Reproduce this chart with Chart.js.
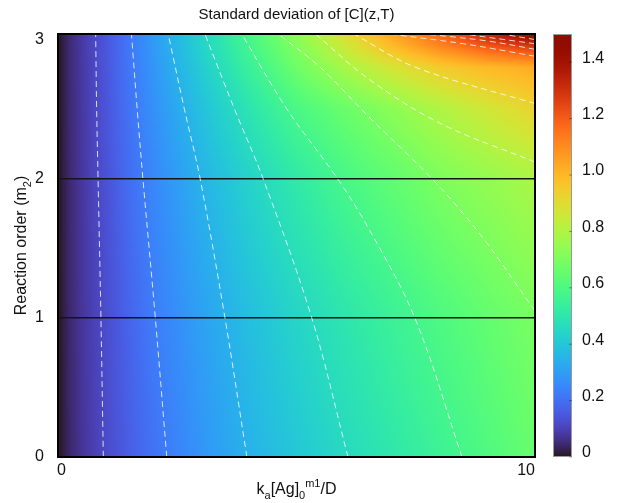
<!DOCTYPE html>
<html>
<head>
<meta charset="utf-8">
<script src="https://cdn.jsdelivr.net/npm/chart.js@4.4.0/dist/chart.umd.min.js"></script>
<style>
  html, body { margin: 0; padding: 0; background: #fff; }
  #wrap { width: 618px; height: 503px; }
</style>
</head>
<body>
<div id="wrap"><canvas id="myChart" width="618" height="503"></canvas></div>
<script>
// where the colour of the map was read (x = k_a[Ag]_0^m1/D, y = m2)
const gridX = [0, 0.25, 0.5, 1, 1.5, 2, 3, 4, 5, 6, 7, 8, 9, 10];
const gridY = [0, 1, 2, 2.5, 2.8, 2.95, 3.04];

// standard deviation, one array per row of gridY
const sdRow0   = [0.00, 0.042, 0.072, 0.120, 0.163, 0.206, 0.279, 0.348, 0.402, 0.456, 0.504, 0.554, 0.605, 0.660];
const sdRow1   = [0.00, 0.044, 0.075, 0.125, 0.176, 0.226, 0.306, 0.378, 0.441, 0.496, 0.549, 0.601, 0.648, 0.693];
const sdRow2   = [0.00, 0.046, 0.078, 0.135, 0.196, 0.251, 0.348, 0.435, 0.512, 0.585, 0.643, 0.700, 0.745, 0.790];
const sdRow25  = [0.00, 0.047, 0.080, 0.141, 0.208, 0.270, 0.384, 0.491, 0.591, 0.660, 0.728, 0.796, 0.862, 0.925];
const sdRow28  = [0.00, 0.048, 0.081, 0.144, 0.214, 0.282, 0.415, 0.545, 0.670, 0.780, 0.870, 0.950, 1.000, 1.030];
const sdRow295 = [0.00, 0.048, 0.082, 0.146, 0.218, 0.290, 0.432, 0.572, 0.710, 0.850, 0.990, 1.110, 1.210, 1.280];
const sdRow304 = [0.00, 0.048, 0.082, 0.146, 0.219, 0.292, 0.438, 0.584, 0.730, 0.890, 1.040, 1.180, 1.330, 1.470];
const sdRows = [sdRow0, sdRow1, sdRow2, sdRow25, sdRow28, sdRow295, sdRow304];

// dashed contour lines, [x, y] points
const contourA = [[0.95, 0], [0.90, 1], [0.84, 2], [0.81, 2.5], [0.79, 3.04]];
const contourB = [[2.28, 0], [2.04, 1], [1.78, 2], [1.66, 2.5], [1.54, 3.04]];
const contourC = [[3.96, 0], [3.50, 1], [2.98, 2], [2.65, 2.5], [2.31, 3.04]];
const contourD = [[6.08, 0], [5.32, 1], [4.30, 2], [3.70, 2.5], [3.08, 3.04]];
const contourE = [[8.47, 0], [7.48, 1], [6.50, 1.65], [5.86, 2], [4.80, 2.5], [3.85, 3.04]];
const contourF = [[10, 1.05], [8.85, 1.6], [7.84, 2], [6.50, 2.45], [5.50, 2.8], [4.62, 3.04]];
const contourG = [[10, 2.12], [8.0, 2.4], [6.5, 2.72], [5.4, 3.04]];
const contourH = [[10, 2.54], [7.5, 2.8], [6.2, 3.04]];
const contourI = [[10, 2.88], [8.5, 2.97], [6.95, 3.04]];
const contourJ = [[10, 2.93], [9.0, 2.99], [7.7, 3.04]];
const contourK = [[10, 2.97], [8.5, 3.04]];
const contourL = [[10, 3.0], [9.3, 3.04]];
const contours = [contourA, contourB, contourC, contourD, contourE, contourF,
                  contourG, contourH, contourI, contourJ, contourK, contourL];

// solid black lines at these reaction orders
const orderLines = [1, 2];

const xTicks = [0, 10];
const yTicks = [0, 1, 2, 3];
const cbTicks = [0, 0.2, 0.4, 0.6, 0.8, 1.0, 1.2, 1.4];
const cbLabels = ["0", "0.2", "0.4", "0.6", "0.8", "1.0", "1.2", "1.4"];
const cbMax = 1.5;

const FONT = "'Liberation Sans', Arial, sans-serif";

function turbo(t) {
  t = Math.min(1, Math.max(0, t));
  const r = 0.13572138 + t*(4.61539260 + t*(-42.66032258 + t*(132.13108234 + t*(-152.94239396 + t*59.28637943))));
  const g = 0.09140261 + t*(2.19418839 + t*(4.84296658 + t*(-14.18503333 + t*(4.27729857 + t*2.82956604))));
  const b = 0.10667330 + t*(12.64194608 + t*(-60.58204836 + t*(110.36276771 + t*(-89.90310912 + t*27.34824973))));
  return [r, g, b].map(c => Math.round(255 * Math.min(1, Math.max(0, c))));
}

function findCell(arr, v) {
  if (v <= arr[0]) return [0, 0];
  const n = arr.length - 1;
  if (v >= arr[n]) return [n - 1, 1];
  for (let i = 0; i < n; i++) {
    if (v <= arr[i + 1]) return [i, (v - arr[i]) / (arr[i + 1] - arr[i])];
  }
  return [n - 1, 1];
}

// shading between the read grid points, like "shading interp"
function sample(xv, yv) {
  const [i, fx] = findCell(gridX, xv);
  const [j, fy] = findCell(gridY, yv);
  const a = sdRows[j][i], b = sdRows[j][i + 1];
  const c = sdRows[j + 1][i], d = sdRows[j + 1][i + 1];
  return (a * (1 - fx) + b * fx) * (1 - fy) + (c * (1 - fx) + d * fx) * fy;
}

const heatmap = {
  id: "heatmap",
  beforeDatasetsDraw(chart) {
    const { ctx, chartArea: area, scales: { x, y } } = chart;
    const w = Math.round(area.right - area.left);
    const h = Math.round(area.bottom - area.top);
    const off = document.createElement("canvas");
    off.width = w; off.height = h;
    const octx = off.getContext("2d");
    const img = octx.createImageData(w, h);
    for (let j = 0; j < h; j++) {
      const yv = y.getValueForPixel(area.top + j + 0.5);
      for (let i = 0; i < w; i++) {
        const xv = x.getValueForPixel(area.left + i + 0.5);
        const col = turbo(sample(xv, yv) / cbMax);
        const k = (j * w + i) * 4;
        img.data[k] = col[0]; img.data[k + 1] = col[1]; img.data[k + 2] = col[2]; img.data[k + 3] = 255;
      }
    }
    octx.putImageData(img, 0, 0);
    ctx.drawImage(off, area.left, area.top);
  }
};

function drawRich(ctx, parts, cx, baseY, size) {
  const small = Math.round(size * 0.68);
  let total = 0;
  parts.forEach(p => {
    ctx.font = (p.sub || p.sup ? small : size) + "px " + FONT;
    p.w = ctx.measureText(p.t).width;
    total += p.w;
  });
  let xPos = cx - total / 2;
  ctx.textAlign = "left";
  ctx.textBaseline = "alphabetic";
  parts.forEach(p => {
    ctx.font = (p.sub || p.sup ? small : size) + "px " + FONT;
    let dy = 0;
    if (p.sub) dy = size * 0.3;
    if (p.sup) dy = -size * 0.42;
    ctx.fillText(p.t, xPos, baseY + dy);
    xPos += p.w;
  });
}

const decorations = {
  id: "decorations",
  afterDatasetsDraw(chart) {
    const { ctx, chartArea: area, scales: { cb, x } } = chart;
    ctx.save();
    // plot box
    ctx.strokeStyle = "#000";
    ctx.lineWidth = 2;
    ctx.strokeRect(area.left, area.top, area.right - area.left, area.bottom - area.top);

    // x tick labels sit inside the ends of the axis
    ctx.fillStyle = "#111";
    ctx.font = "16px " + FONT;
    ctx.textBaseline = "top";
    xTicks.forEach((v, i) => {
      ctx.textAlign = i === 0 ? "left" : (i === xTicks.length - 1 ? "right" : "center");
      ctx.fillText(String(v), x.getPixelForValue(v) + (i === 0 ? -1 : 0), area.bottom + 6);
    });

    // colour bar
    const cbLeft = 553, cbW = 19;
    const top = Math.round(cb.getPixelForValue(cbMax));
    const bottom = Math.round(cb.getPixelForValue(0));
    for (let py = top; py < bottom; py++) {
      const col = turbo(cb.getValueForPixel(py + 0.5) / cbMax);
      ctx.fillStyle = "rgb(" + col.join(",") + ")";
      ctx.fillRect(cbLeft, py, cbW, 1);
    }
    ctx.strokeStyle = "#9a9a9a";
    ctx.lineWidth = 1;
    ctx.strokeRect(cbLeft + 0.5, top + 0.5, cbW - 1, bottom - top - 1);
    ctx.fillStyle = "#111";
    ctx.font = "16px " + FONT;
    ctx.textAlign = "left";
    ctx.textBaseline = "middle";
    cbTicks.forEach((v, i) => {
      const py = cb.getPixelForValue(v);
      ctx.strokeStyle = "rgba(0,0,0,0.35)";
      ctx.beginPath();
      ctx.moveTo(cbLeft + cbW - 3, py);
      ctx.lineTo(cbLeft + cbW, py);
      ctx.stroke();
      ctx.fillText(cbLabels[i], cbLeft + cbW + 10, py - 4);
    });
    ctx.restore();
  },
  afterDraw(chart) {
    const { ctx, chartArea: area } = chart;
    const cx = (area.left + area.right) / 2;
    ctx.save();
    ctx.fillStyle = "#111";
    ctx.font = "15px " + FONT;
    ctx.textAlign = "center";
    ctx.textBaseline = "alphabetic";
    ctx.fillText("Standard deviation of [C](z,T)", cx, 19);

    drawRich(ctx, [
      { t: "k" }, { t: "a", sub: true }, { t: "[Ag]" }, { t: "0", sub: true },
      { t: "m1", sup: true }, { t: "/D" }
    ], cx, 494, 16);

    ctx.translate(26, (area.top + area.bottom) / 2);
    ctx.rotate(-Math.PI / 2);
    drawRich(ctx, [{ t: "Reaction order (m" }, { t: "2", sub: true }, { t: ")" }], 0, 0, 16);
    ctx.restore();
  }
};

const datasets = contours.map(c => ({
  data: c.map(p => ({ x: p[0], y: p[1] })),
  borderColor: "rgba(255,255,255,0.8)",
  borderWidth: 1,
  borderDash: [6, 4],
  pointRadius: 0,
  tension: 0.35,
  fill: false
}));
orderLines.forEach(m => {
  datasets.push({
    data: [{ x: 0, y: m }, { x: 10, y: m }],
    borderColor: "#151515",
    borderWidth: 1.5,
    pointRadius: 0,
    fill: false
  });
});

new Chart(document.getElementById("myChart"), {
  type: "line",
  data: { datasets },
  plugins: [heatmap, decorations],
  options: {
    responsive: false,
    animation: false,
    layout: { padding: { top: 34, right: 83, left: 0, bottom: 0 } },
    plugins: { legend: { display: false }, tooltip: { enabled: false }, title: { display: false } },
    scales: {
      x: {
        type: "linear", min: 0, max: 10,
        grid: { display: false }, border: { display: false },
        afterBuildTicks(s) { s.ticks = xTicks.map(v => ({ value: v })); },
        afterFit(s) { s.height = 46; },
        ticks: { display: false }
      },
      y: {
        type: "linear", min: 0, max: 3.04,
        grid: { display: false }, border: { display: false },
        afterBuildTicks(s) { s.ticks = yTicks.map(v => ({ value: v })); },
        afterFit(s) { s.width = 58; },
        ticks: { font: { size: 16, family: FONT }, color: "#111", padding: 6 }
      },
      cb: {
        type: "linear", position: "right", min: 0, max: cbMax,
        grid: { display: false }, border: { display: false },
        ticks: { display: false },
        afterFit(s) { s.width = 0; }
      }
    }
  }
});
</script>
</body>
</html>
